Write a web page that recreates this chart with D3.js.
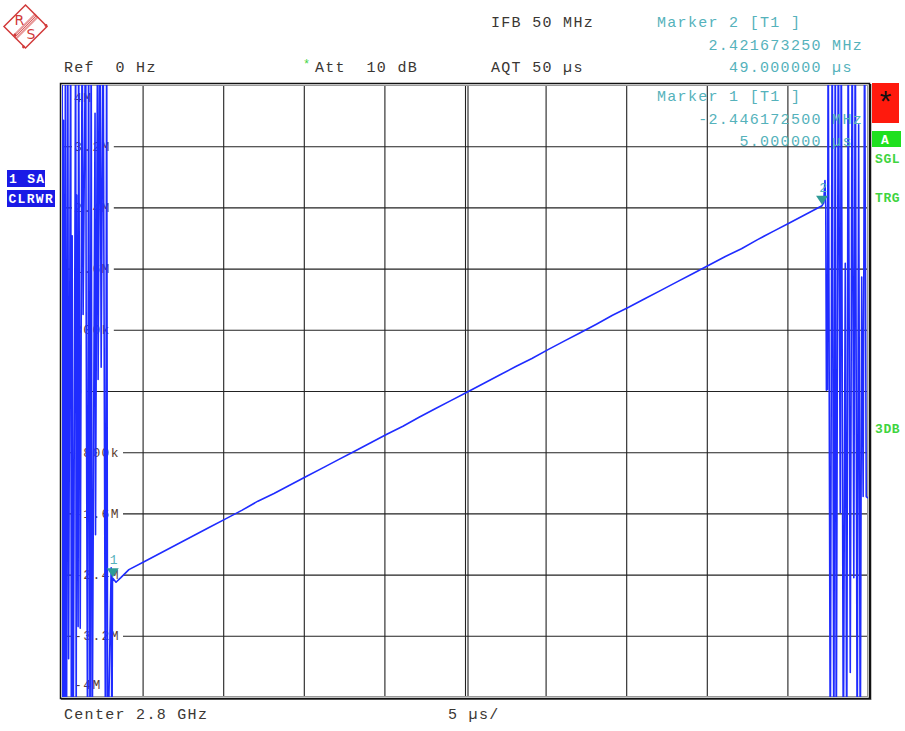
<!DOCTYPE html>
<html>
<head>
<meta charset="utf-8">
<script src="https://cdn.jsdelivr.net/npm/d3@7"></script>
<style>
  html, body { margin: 0; padding: 0; background: #fff; }
  svg text { font-family: "Liberation Mono", "DejaVu Sans Mono", monospace; white-space: pre; }
</style>
</head>
<body>
<svg id="screen" width="905" height="731"></svg>
<script>
// ---- Measurement setup ----
const sweepStartUs = 1.85;          // time at the left edge of the grid
const sweepSpanUs = 50;             // 5 µs/div, 10 divisions
const timeDivisionsUs = [0, 5, 10, 15, 20, 25, 30, 35, 40, 45, 50];
const freqRangeMHz = [-4, 4];
const freqTicksMHz = [4, 3.2, 2.4, 1.6, 0.8, 0, -0.8, -1.6, -2.4, -3.2, -4];
const freqTickLabels = ["4M", "3.2M", "2.4M", "1.6M", "800k", "0", "-800k", "-1.6M", "-2.4M", "-3.2M", "-4M"];

// ---- Trace: FM demodulated frequency deviation vs time [µs, MHz] ----
// off-scale readings (|f| > 4 MHz) are stored as ±5 and clipped by the grid
const traceBeforeChirp = [
  [1.83, -5], [1.86, 5], [1.91, -5], [1.94, 3.54], [2.02, -5], [2.06, 5], [2.13, -5],
  [2.21, 5], [2.26, -3.5], [2.39, 5], [2.43, -5], [2.48, 2.03], [2.54, -5], [2.70, 5],
  [2.73, -5], [2.76, 2.56], [2.85, -3.08], [2.88, 5], [2.98, -3.1], [3.10, 5], [3.16, 1.0],
  [3.32, 5], [3.35, 1.03], [3.44, -5], [3.50, 5], [3.59, -5], [3.66, 5], [3.72, -5],
  [3.90, 3.63], [3.93, -1.88], [4.06, 5], [4.09, 0.15], [4.21, 5], [4.28, 0.31], [4.40, 5],
  [4.55, -5], [4.62, 5], [4.68, -5], [4.90, -2.31], [4.95, -5], [4.98, -2.5]
];

const traceChirp = [
  [5.0, -2.446], [5.2, -2.50], [5.5, -2.44], [6, -2.335], [7, -2.225], [8, -2.114],
  [9, -2.003], [10, -1.893], [11, -1.782], [12, -1.672], [13, -1.561], [14, -1.44],
  [15, -1.340], [16, -1.229], [17, -1.118], [18, -1.008], [19, -0.897], [20, -0.787],
  [21, -0.676], [22, -0.565], [23, -0.46], [24, -0.344], [25, -0.233], [26, -0.123],
  [27, -0.012], [28, 0.099], [29, 0.209], [30, 0.320], [31, 0.425], [32, 0.541],
  [33, 0.652], [34, 0.762], [35, 0.873], [36, 0.99], [37, 1.094], [38, 1.205],
  [39, 1.315], [40, 1.426], [41, 1.537], [42, 1.647], [43, 1.758], [44, 1.86],
  [45, 1.979], [46, 2.090], [47, 2.200], [48, 2.311], [49, 2.422]
];

const traceAfterChirp = [
  [49.1, 2.46], [49.18, 2.75], [49.23, 2.40], [49.27, 0.01], [49.33, 0.02], [49.38, 5],
  [49.51, -5], [49.63, 5], [49.73, -5], [49.82, 5], [49.88, -5], [50.01, 5], [50.13, -1.59],
  [50.19, 5], [50.32, -5], [50.44, 1.67], [50.53, -5], [50.62, 5], [50.75, -3.68],
  [50.87, 5], [50.97, -2.44], [51.06, 5], [51.18, -5], [51.27, 3.48], [51.37, -5],
  [51.46, 1.49], [51.55, -1.38], [51.64, 5], [51.74, -1.38], [51.85, -1.4]
];

// ---- Markers ----
const markerIds = [1, 2];
const markerTimesUs = [5.0, 49.0];
const markerFreqMHz = [-2.4461725, 2.42167325];
const markerFreqText = ["-2.446172500 MHz", "2.421673250 MHz"];
const markerTimeText = ["5.000000 µs", "49.000000 µs"];

// ---- Layout ----
const plot = { left: 62, right: 868, top: 85, bottom: 697 };
const svg = d3.select("#screen");

const x = d3.scaleLinear()
  .domain([sweepStartUs, sweepStartUs + sweepSpanUs])
  .range([plot.left, plot.right]);
const y = d3.scaleLinear().domain(freqRangeMHz).range([plot.bottom, plot.top]);

const textCol = "#3a3633";
const markCol = "#55b2bb";
const traceCol = "#1f2cff";

// ---- Logo ----
const logo = svg.append("g").attr("transform", "translate(25.5,26.5)");
logo.append("path")
  .attr("d", "M0,-21.5 L21.5,0 L0,21.5 L-21.5,0 Z")
  .attr("fill", "none").attr("stroke", "#d23a3a").attr("stroke-width", 1.5);
[-2.4, -1.2, 0, 1.2, 2.4].forEach(o => {
  logo.append("line")
    .attr("x1", -11 + o * 0.707).attr("y1", 11 + o * 0.707)
    .attr("x2", 11 + o * 0.707).attr("y2", -11 + o * 0.707)
    .attr("stroke", "#d23a3a").attr("stroke-width", 0.8);
});
[[20.5, -1], [-2, 20.5], [-10.5, 8.5]].forEach(p => {
  logo.append("circle").attr("cx", p[0]).attr("cy", p[1]).attr("r", 1.4).attr("fill", "#d23a3a");
});
logo.append("text").attr("x", -11).attr("y", -2).text("R")
  .attr("font-size", 14).attr("fill", "#d23a3a").style("font-family", "'DejaVu Sans', sans-serif");
logo.append("text").attr("x", 1).attr("y", 12).text("S")
  .attr("font-size", 14).attr("fill", "#d23a3a").style("font-family", "'DejaVu Sans', sans-serif");

// ---- Header text ----
function hdr(xp, yp, str, col, size, spacing) {
  return svg.append("text").attr("x", xp).attr("y", yp)
    .attr("font-size", size || 15).attr("letter-spacing", spacing == null ? 1.3 : spacing)
    .attr("fill", col || textCol).text(str);
}
hdr(64, 72, "Ref  0 Hz");
hdr(303, 68, "*", "#3fd43f", 12, 0);
hdr(315, 72, "Att  10 dB");
hdr(491, 27, "IFB 50 MHz");
hdr(491, 72, "AQT 50 µs");

// marker readouts
hdr(657, 27, "Marker 2 [T1 ]", markCol);
hdr(657, 50, "     " + markerFreqText[1], markCol);
hdr(657, 72, "       " + markerTimeText[1], markCol);

// footer
hdr(64, 719, "Center 2.8 GHz");
hdr(448, 719, "5 µs/");

// ---- Side badges ----
function badge(bx, by, bw, bh, fill, label, tx, ty, tcol, tsize) {
  svg.append("rect").attr("x", bx).attr("y", by).attr("width", bw).attr("height", bh).attr("fill", fill);
  svg.append("text").attr("x", tx).attr("y", ty).attr("fill", tcol)
    .attr("font-size", tsize).attr("font-weight", "bold").attr("letter-spacing", 1.3).text(label);
}
badge(7, 170, 38, 17, "#1a1ae6", "1 SA", 9, 183, "#fff", 13);
badge(7, 190, 48, 17, "#1a1ae6", "CLRWR", 8.5, 203, "#fff", 13);
svg.append("rect").attr("x", 872).attr("y", 83).attr("width", 27).attr("height", 40).attr("fill", "#ff1a0d");
svg.append("text").attr("x", 885.5).attr("y", 113).attr("text-anchor", "middle")
  .attr("font-size", 30).attr("fill", "#111").text("*");
badge(872, 131, 29, 16, "#1fe01f", "A", 881, 144, "#fff", 13);
[["SGL", 163], ["TRG", 202], ["3DB", 433]].forEach(d => {
  svg.append("text").attr("x", 875).attr("y", d[1]).attr("fill", "#3fd43f")
    .attr("font-size", 13).attr("font-weight", "bold").attr("letter-spacing", 0.6).text(d[0]);
});

// ---- Grid ----
const gridCol = "#222";
const centerTime = sweepStartUs + 25;
const gridTimes = timeDivisionsUs.slice(1, -1).map(d => sweepStartUs + d);
const vGrid = svg.append("g")
  .attr("transform", `translate(0,${plot.bottom})`)
  .call(d3.axisBottom(x).tickValues(gridTimes).tickSize(-(plot.bottom - plot.top)).tickFormat(""));
vGrid.select(".domain").remove();
vGrid.selectAll(".tick line").attr("stroke", gridCol).attr("stroke-width", 1.1);
vGrid.selectAll(".tick").filter(d => Math.abs(d - centerTime) < 1e-9)
  .append("line").attr("x1", 2.5).attr("x2", 2.5).attr("y2", -(plot.bottom - plot.top))
  .attr("stroke", gridCol).attr("stroke-width", 1.1);

const hGrid = svg.append("g")
  .attr("transform", `translate(${plot.left},0)`)
  .call(d3.axisLeft(y).tickValues(freqTicksMHz.slice(1, -1)).tickSize(-(plot.right - plot.left)).tickFormat(""));
hGrid.select(".domain").remove();
hGrid.selectAll(".tick line").attr("stroke", gridCol).attr("stroke-width", 1.1);

// ---- Frame ----
svg.append("rect").attr("x", plot.left + 0.5).attr("y", plot.top + 0.5)
  .attr("width", plot.right - plot.left - 1).attr("height", plot.bottom - plot.top - 1)
  .attr("fill", "none").attr("stroke", "#9a9a9a").attr("stroke-width", 1);
svg.append("rect").attr("x", plot.left - 1.5).attr("y", plot.top - 1.5)
  .attr("width", plot.right - plot.left + 3).attr("height", plot.bottom - plot.top + 3)
  .attr("fill", "none").attr("stroke", "#111").attr("stroke-width", 1.5);
svg.append("line").attr("x1", plot.right + 2.5).attr("x2", plot.right + 2.5)
  .attr("y1", plot.top - 1).attr("y2", plot.bottom + 3).attr("stroke", "#111").attr("stroke-width", 1.5);
svg.append("line").attr("x1", plot.left - 1).attr("x2", plot.right + 3)
  .attr("y1", plot.bottom + 2.5).attr("y2", plot.bottom + 2.5).attr("stroke", "#555").attr("stroke-width", 1.2);

// ---- Frequency labels inside the grid ----
const yAxis = svg.append("g")
  .attr("transform", `translate(${plot.left + 12},0)`)
  .call(d3.axisRight(y).tickValues(freqTicksMHz).tickSize(0)
    .tickFormat((d, i) => freqTickLabels[i]));
yAxis.select(".domain").remove();
yAxis.selectAll(".tick").each(function (d, i) {
  const g = d3.select(this);
  const last = freqTicksMHz.length - 1;
  const shift = i === 0 ? 12 : (i === last ? -13 : 0);
  const t = g.select("text")
    .attr("x", 0).attr("dy", "0.32em").attr("y", shift)
    .attr("font-size", 13).attr("letter-spacing", 1.4)
    .attr("fill", "#5a4030").style("font-family", "'Liberation Mono', monospace");
  if (i !== 0 && i !== last) {
    const bb = t.node().getBBox();
    g.insert("rect", "text")
      .attr("x", bb.x - 2).attr("y", -2).attr("width", bb.width + 5).attr("height", 4)
      .attr("fill", "#fff");
  }
});

// ---- Trace ----
svg.append("clipPath").attr("id", "plotClip").append("rect")
  .attr("x", plot.left).attr("y", plot.top)
  .attr("width", plot.right - plot.left).attr("height", plot.bottom - plot.top);

const trace = traceBeforeChirp.concat(traceChirp, traceAfterChirp);
const line = d3.line().x(d => x(d[0])).y(d => y(d[1]));
svg.append("path")
  .datum(trace)
  .attr("clip-path", "url(#plotClip)")
  .attr("d", line)
  .attr("fill", "none").attr("stroke", traceCol).attr("stroke-width", 1.6)
  .attr("stroke-linejoin", "round");

// ---- Markers on trace ----
markerIds.forEach((id, i) => {
  const mx = x(markerTimesUs[i]), my = y(markerFreqMHz[i]);
  svg.append("path")
    .attr("d", `M${mx},${my - 1} L${mx - 6},${my - 10} L${mx + 6},${my - 10} Z`)
    .attr("fill", "#2f9a96");
  svg.append("text").attr("x", mx + 1).attr("y", my - 14).attr("text-anchor", "middle")
    .attr("font-size", 13).attr("fill", markCol).text(id);
});

// marker 1 readout sits over the grid
hdr(657, 101, "Marker 1 [T1 ]", markCol);
hdr(657, 123.5, "    " + markerFreqText[0], markCol);
hdr(657, 145.5, "        " + markerTimeText[0], markCol);
</script>
</body>
</html>
